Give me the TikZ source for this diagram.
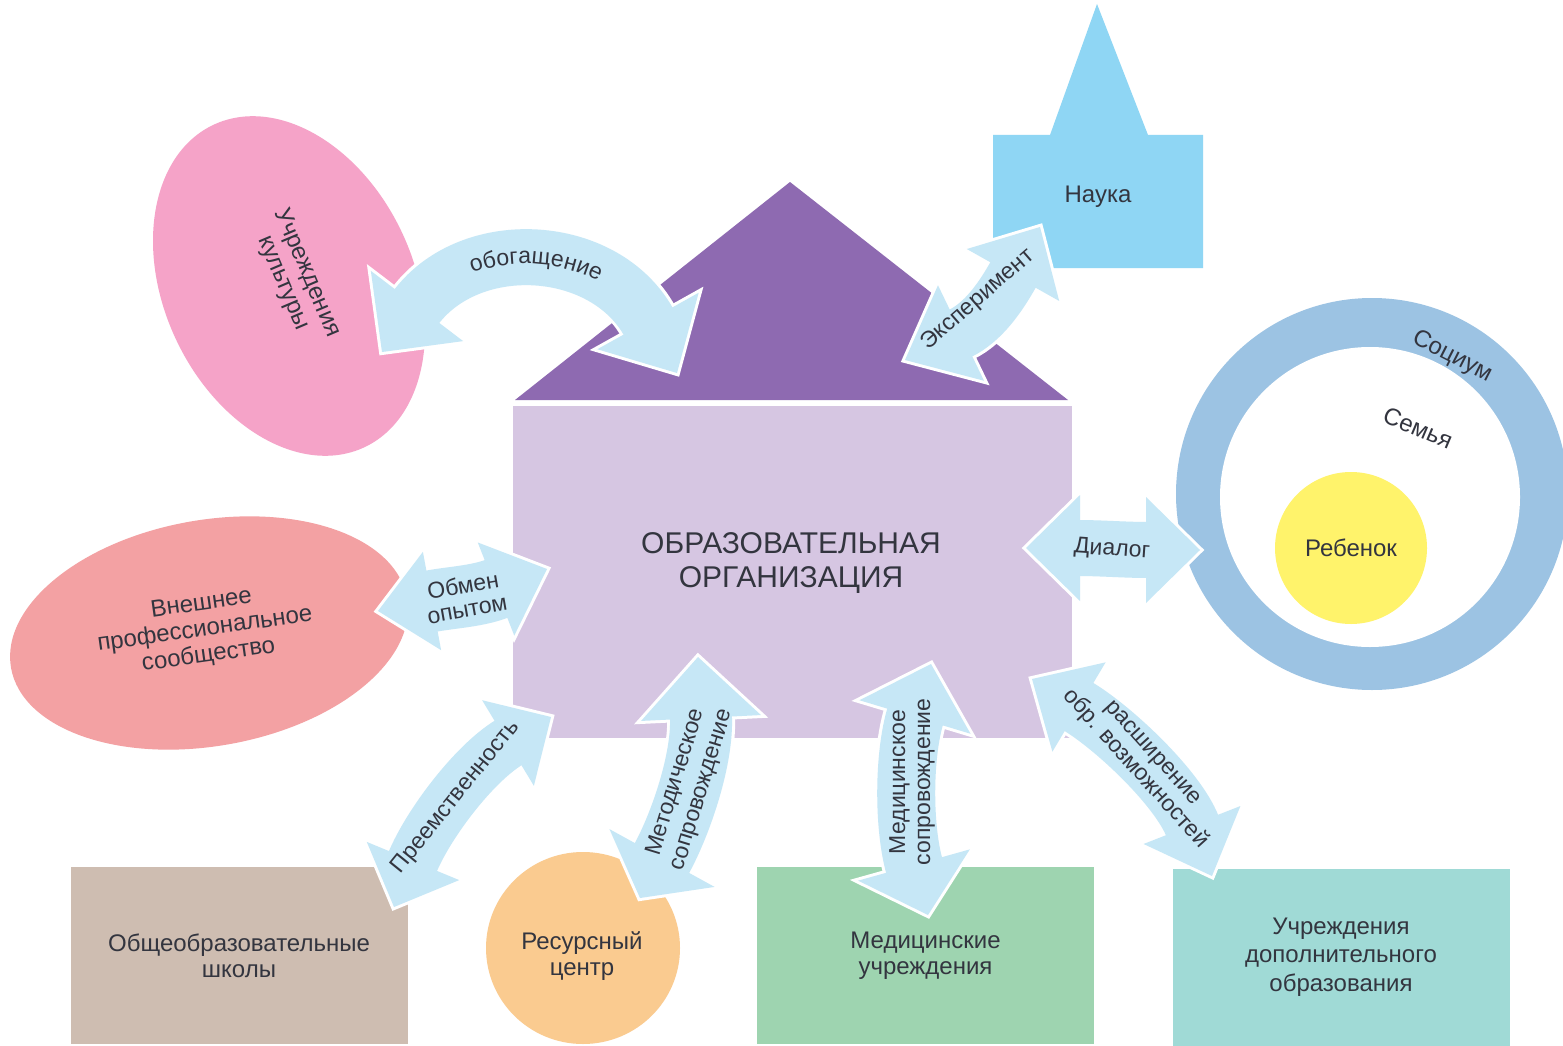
\documentclass[tikz,border=0pt]{standalone}
\usepackage{fontspec}
\setmainfont{Liberation Sans}
\usetikzlibrary{calc,shapes.geometric,decorations.text}
\definecolor{roofc}{HTML}{8E6AB1}
\definecolor{bodyc}{HTML}{D6C6E2}
\definecolor{arrowc}{HTML}{C6E7F6}
\definecolor{naukac}{HTML}{8FD6F4}
\definecolor{pinkc}{HTML}{F5A3C8}
\definecolor{salmonc}{HTML}{F3A1A3}
\definecolor{ringc}{HTML}{9CC3E3}
\definecolor{yellowc}{HTML}{FFF36B}
\definecolor{tanc}{HTML}{CEBDB1}
\definecolor{orangec}{HTML}{FACB90}
\definecolor{greenc}{HTML}{9ED4B0}
\definecolor{tealc}{HTML}{A0DAD6}
\definecolor{textc}{HTML}{33353F}
% #1 tip1, #2 base-mid1, #3 tip2, #4 base-mid2, #5 k1, #6 k2, #7 shaft width, #8 half head width
\newcommand\fatarrow[8]{%
  \pgfmathsetmacro\faW{#7+6}%
  \fill[white, draw=white, line width=6pt, line join=miter] (#1) -- ($(#2)!#8pt!90:(#1)$) -- ($(#2)!#8pt!-90:(#1)$) -- cycle;
  \fill[white, draw=white, line width=6pt, line join=miter] (#3) -- ($(#4)!#8pt!90:(#3)$) -- ($(#4)!#8pt!-90:(#3)$) -- cycle;
  \draw[white, line width=\faW pt] (#2) .. controls ($(#2)!#5pt!180:(#1)$) and ($(#4)!#6pt!180:(#3)$) .. (#4);
  \fill[arrowc] (#1) -- ($(#2)!#8pt!90:(#1)$) -- ($(#2)!#8pt!-90:(#1)$) -- cycle;
  \fill[arrowc] (#3) -- ($(#4)!#8pt!90:(#3)$) -- ($(#4)!#8pt!-90:(#3)$) -- cycle;
  \draw[arrowc, line width=#7pt] ($(#2)!1.5pt!(#1)$) .. controls ($(#2)!#5pt!180:(#1)$) and ($(#4)!#6pt!180:(#3)$) .. ($(#4)!1.5pt!(#3)$);
}
\tikzset{
  lbl/.style={font=\fontsize{24}{26}\selectfont, text=textc, align=center, inner sep=0pt},
  albl/.style={font=\fontsize{23}{25}\selectfont, text=textc, align=center, inner sep=0pt},
  boxn/.style={lbl, rectangle, minimum width=337pt, minimum height=177pt},
}
\begin{document}
\begin{tikzpicture}[x=1pt,y=-1pt]
\useasboundingbox (0,0) rectangle (1563,1046);
\fill[white] (0,0) rectangle (1563,1046);

% central house
\node[rectangle, fill=bodyc, minimum width=559pt, minimum height=332pt, inner sep=0pt] (body) at (792.5,572) {};
\coordinate (apex) at (790,182);
\fill[roofc] (515,400) -- (apex) -- (1068,400) -- cycle;
\node[lbl, font=\fontsize{30}{34}\selectfont] (org) at (791,563) {ОБРАЗОВАТЕЛЬНАЯ\\ОРГАНИЗАЦИЯ};

% Nauka
\fill[naukac] (993,135) -- (1050,135) -- (1097,4) -- (1148,135) -- (1203,135) -- (1203,268) -- (993,268) -- cycle;
\node[lbl] (nauka) at (1098,197) {Наука};

% culture
\node[ellipse, fill=pinkc, minimum width=250pt, minimum height=356pt, inner sep=0pt, rotate=25] (culture) at (289,286) {};
% professional community
\node[ellipse, fill=salmonc, minimum width=402pt, minimum height=226pt, inner sep=0pt, rotate=10] (prof) at (209,633) {};

% socium
\node[circle, fill=ringc, minimum size=392pt, inner sep=0pt] (socium) at (1372,494) {};
\node[circle, fill=white, minimum size=300pt, inner sep=0pt] (family) at (1370,497) {};
\node[circle, fill=yellowc, minimum size=152pt, inner sep=0pt] (childc) at (1351,548) {};

% bottom
\node[boxn, fill=tanc] (school) at (239,955.5) {Общеобразовательные\\школы};
\node[ellipse, fill=orangec, minimum width=194pt, minimum height=192pt, inner sep=0pt] (res) at (583,948) {};
\node[boxn, fill=greenc] (med) at (925.5,955.5) {Медицинские\\учреждения};
\node[boxn, fill=tealc, font=\fontsize{24}{28.5}\selectfont] (dop) at (1341,957) {Учреждения\\дополнительного\\образования};

% arrows
\coordinate (obT1) at (382,352); \coordinate (obM1) at (417,306);
\coordinate (obT2) at (677,373); \coordinate (obM2) at (648,321);
\fatarrow{obT1}{obM1}{obT2}{obM2}{90}{90}{56}{58}

\coordinate (exT1) at (905,360); \coordinate (exM1) at (961,333);
\coordinate (exT2) at (1040,227); \coordinate (exM2) at (1013,275);
\fatarrow{exT1}{exM1}{exT2}{exM2}{25}{25}{52}{53}

\coordinate (omT1) at (378,611); \coordinate (omM1) at (432,601);
\coordinate (omT2) at (547,569); \coordinate (omM2) at (496,589);
\fatarrow{omT1}{omM1}{omT2}{omM2}{20}{20}{62}{50}

\coordinate (diT1) at (1026,548); \coordinate (diM1) at (1080,548);
\coordinate (diT2) at (1200,550); \coordinate (diM2) at (1146,550);
\fatarrow{diT1}{diM1}{diT2}{diM2}{20}{20}{56}{53}

\coordinate (prT1) at (394,907); \coordinate (prM1) at (413,861);
\coordinate (prT2) at (551,717); \coordinate (prM2) at (508,743);
\fatarrow{prT1}{prM1}{prT2}{prM2}{40}{40}{52}{50}

\coordinate (meT1) at (640,898); \coordinate (meM1) at (662,858);
\coordinate (meT2) at (698,657); \coordinate (meM2) at (701,718);
\fatarrow{meT1}{meM1}{meT2}{meM2}{40}{40}{62}{60}

\coordinate (mdT1) at (931,664); \coordinate (mdM1) at (915,717);
\coordinate (mdT2) at (928,915); \coordinate (mdM2) at (914,865);
\fatarrow{mdT1}{mdM1}{mdT2}{mdM2}{40}{40}{58}{58}

\coordinate (raT1) at (1032,679); \coordinate (raM1) at (1079,707);
\coordinate (raT2) at (1212,876); \coordinate (raM2) at (1192,825);
\fatarrow{raT1}{raM1}{raT2}{raM2}{40}{40}{56}{52}

% labels
\node[lbl, rotate=-67] (tcult) at (295,278) {Учреждения\\культуры};
\node[lbl, rotate=8] (tprof) at (205,630) {Внешнее\\профессиональное\\сообщество};
\node[lbl] (tres) at (582,956) {Ресурсный\\центр};
\node[lbl] (tchild) at (1351,548) {Ребенок};
\node[lbl, rotate=-27] (tsoc) at (1452,357) {Социум};
\node[lbl, rotate=-23] (tfam) at (1418,428) {Семья};

\path[decorate, decoration={text along path, text={|\fontsize{23}{23}\selectfont\color{textc}|обогащение}, text align=center}] (417,313) .. controls (471,241) and (604,250) .. (648,328);
\node[albl, rotate=41] (tex) at (978,300) {Эксперимент};
\node[albl, font=\fontsize{23}{24}\selectfont, rotate=10] (tom) at (465,597) {Обмен\\опытом};
\node[albl, rotate=-4] (tdi) at (1112,550) {Диалог};
\node[albl, rotate=51] (tpr) at (456,797) {Преемственность};
\node[albl, font=\fontsize{23}{27}\selectfont, rotate=73] (tme) at (689,786) {Методическое\\сопровождение};
\node[albl, rotate=90] (tmd) at (912,782) {Медицинское\\сопровождение};
\node[albl, font=\fontsize{23}{24}\selectfont, rotate=-48] (tra) at (1143,762) {расширение\\обр. возможностей};
\end{tikzpicture}
\end{document}
